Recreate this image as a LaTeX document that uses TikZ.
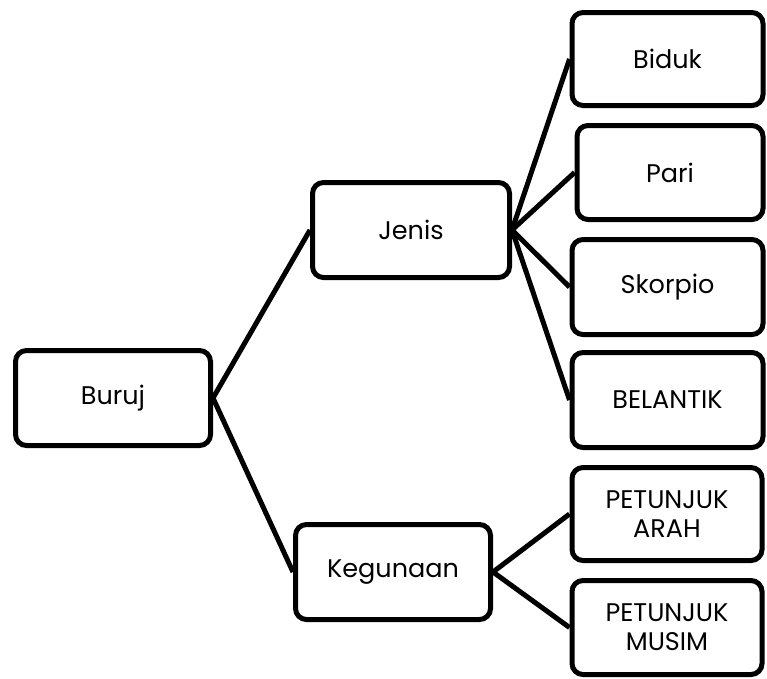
\documentclass[tikz,border=0pt]{standalone}
\usepackage{fontspec}
\setmainfont{Poppins}
\begin{document}
\begin{tikzpicture}[x=1pt,y=-1pt,
  box/.style={draw=black, line width=5pt, rounded corners=11pt, fill=white,
    align=center, inner sep=0pt, font=\fontsize{25.5}{29}\selectfont},
  link/.style={draw=black, line width=5pt}]
\useasboundingbox (0,0) rectangle (767,678);
\node[box, minimum width=195pt, minimum height=95pt] (buruj) at (113,398) {Buruj};
\node[box, minimum width=197pt, minimum height=95pt] (jenis) at (411,230) {Jenis};
\node[box, minimum width=195pt, minimum height=95pt] (keg) at (393,572) {Kegunaan};
\node[box, minimum width=191pt, minimum height=93pt] (biduk) at (667.5,59) {Biduk};
\node[box, minimum width=186pt, minimum height=94pt] (pari) at (670,172.5) {Pari};
\node[box, minimum width=191pt, minimum height=95pt] (skorpio) at (667.5,287) {Skorpio};
\node[box, minimum width=191pt, minimum height=95pt] (belantik) at (667.5,400) {BELANTIK};
\node[box, minimum width=190pt, minimum height=93pt] (arah) at (667,514) {PETUNJUK\\ARAH};
\node[box, minimum width=190pt, minimum height=94pt] (musim) at (667,627.5) {PETUNJUK\\MUSIM};
\draw[link] (buruj.east) -- (jenis.west);
\draw[link] (buruj.east) -- (keg.west);
\draw[link] (jenis.east) -- (biduk.west);
\draw[link] (jenis.east) -- (pari.west);
\draw[link] (jenis.east) -- (skorpio.west);
\draw[link] (jenis.east) -- (belantik.west);
\draw[link] (keg.east) -- (arah.west);
\draw[link] (keg.east) -- (musim.west);
\end{tikzpicture}
\end{document}
